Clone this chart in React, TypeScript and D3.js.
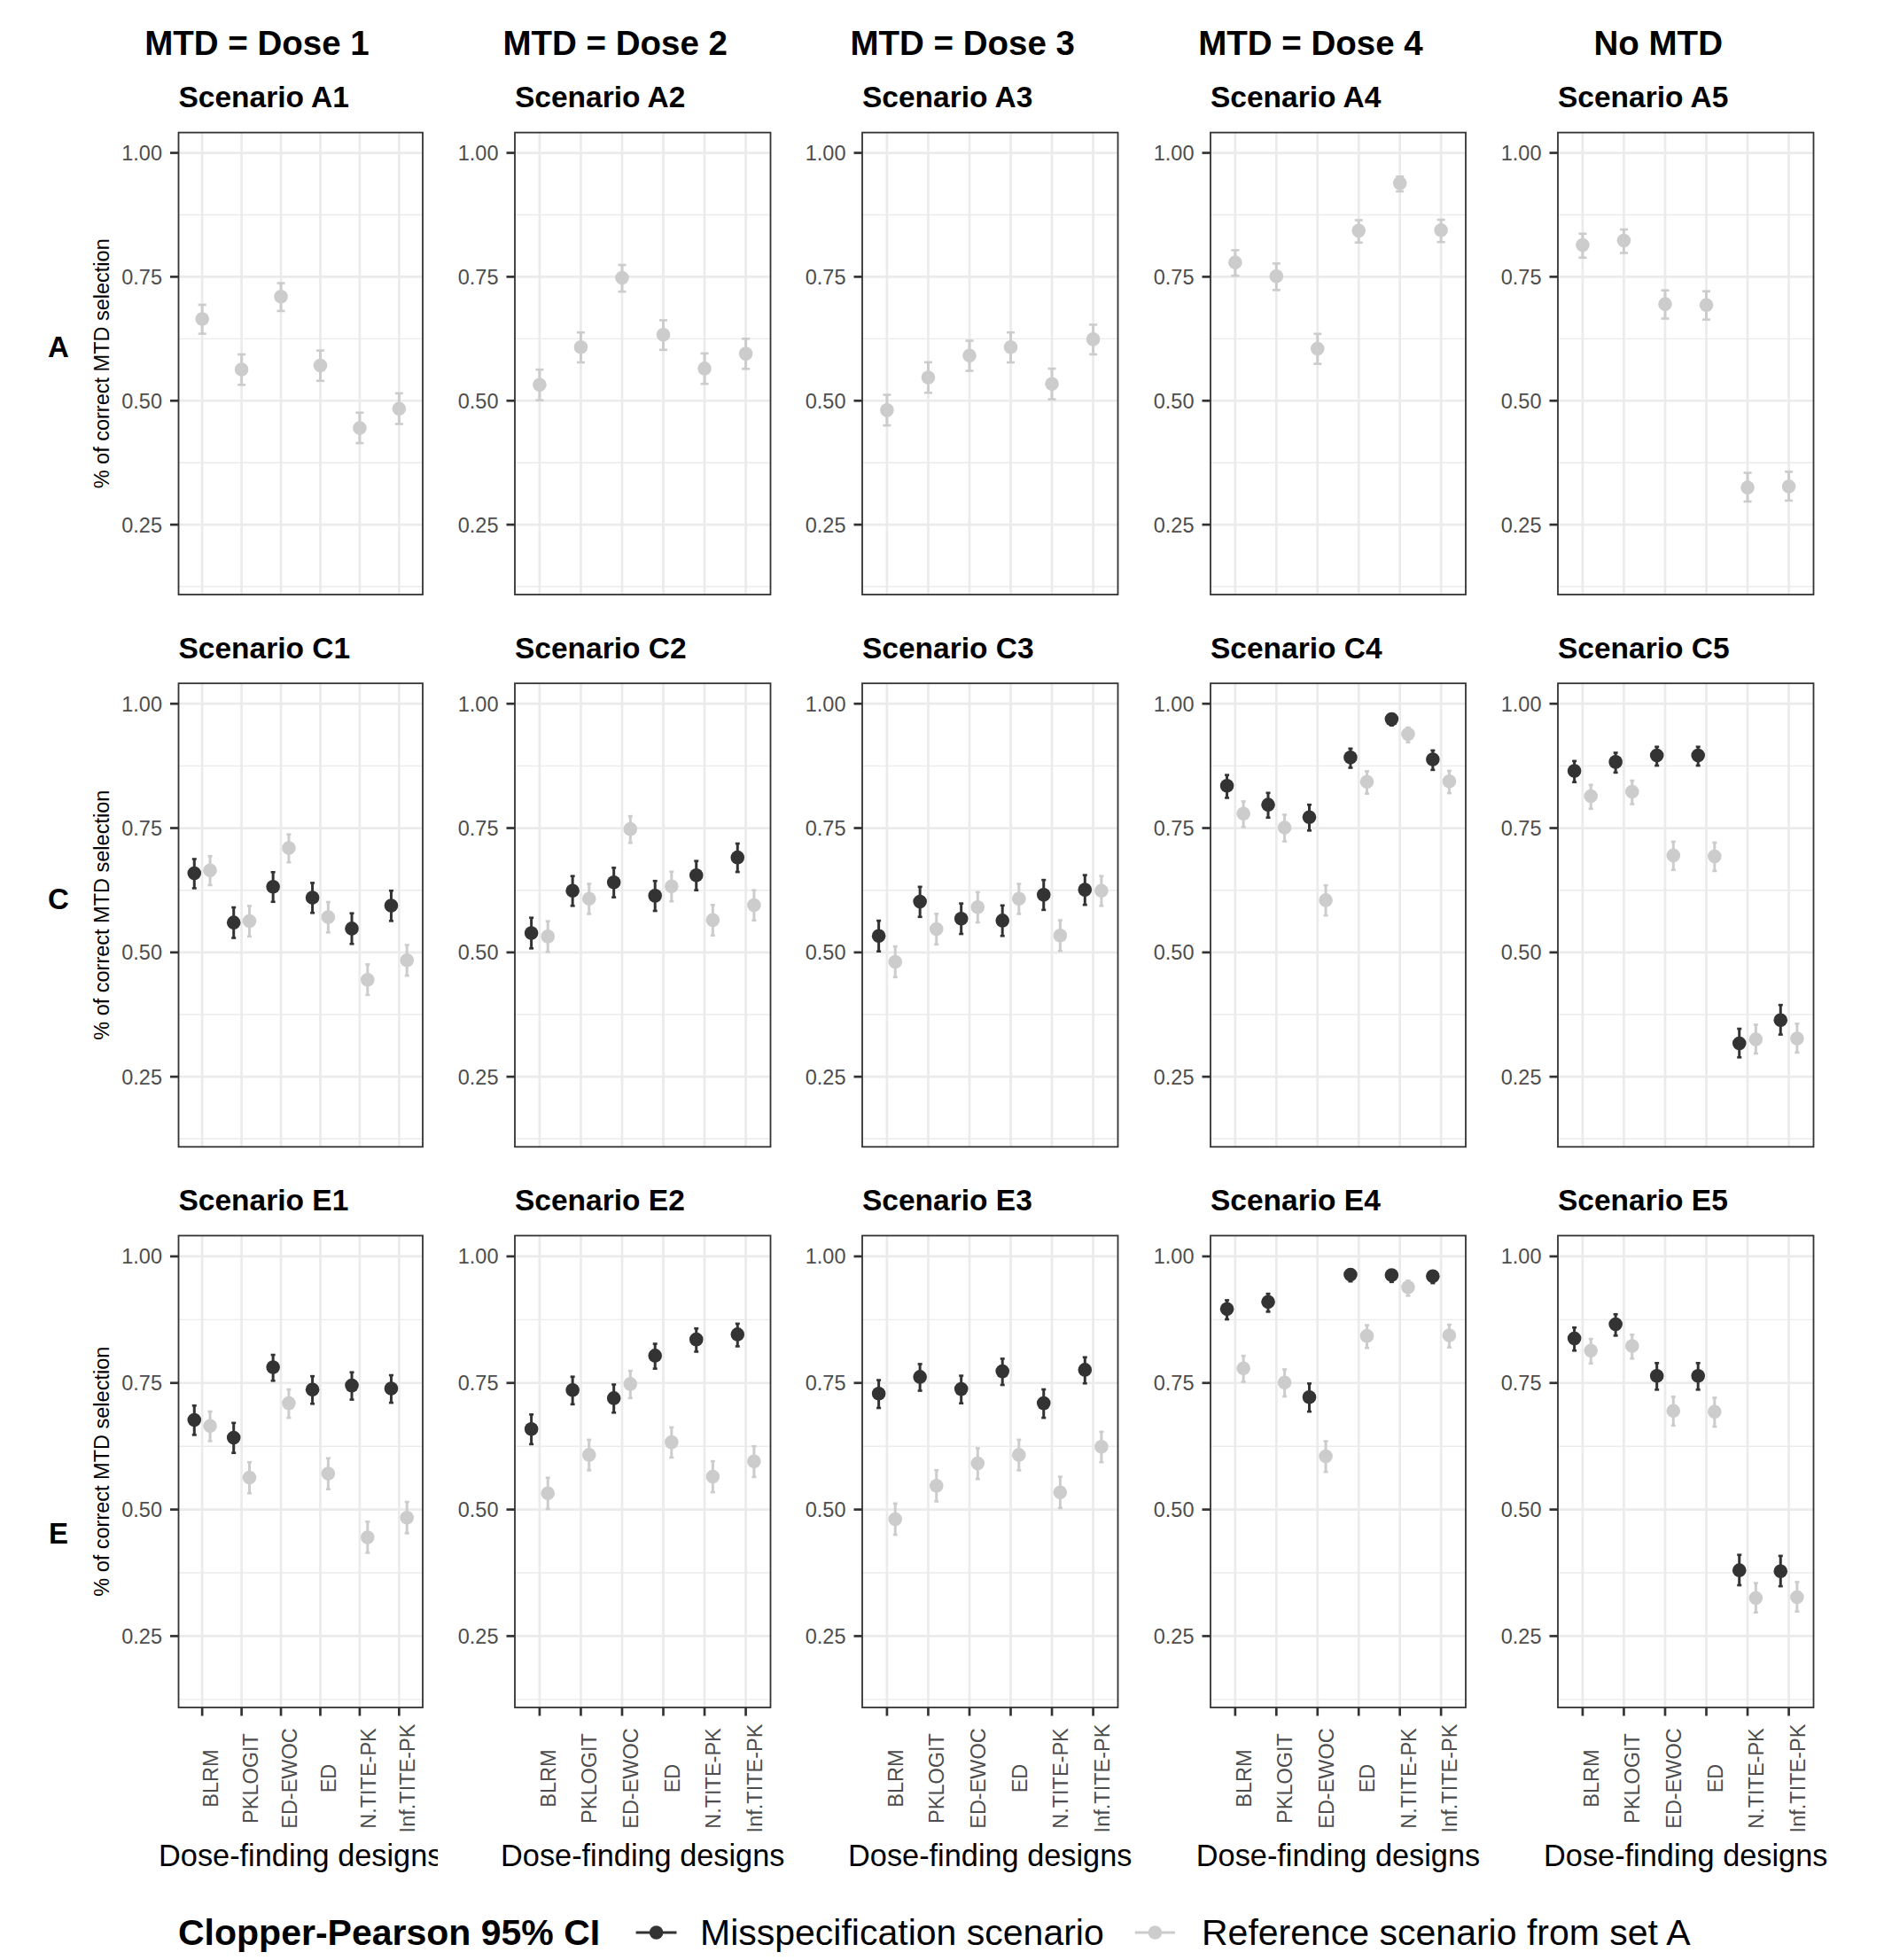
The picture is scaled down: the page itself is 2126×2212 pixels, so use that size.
import React from 'react';
import * as d3 from 'd3';

// ---- data ----
const designs = ['BLRM', 'PKLOGIT', 'ED-EWOC', 'ED', 'N.TITE-PK', 'Inf.TITE-PK'];
const columnTitles = ['MTD = Dose 1', 'MTD = Dose 2', 'MTD = Dose 3', 'MTD = Dose 4', 'No MTD'];
const rowSets = ['A', 'C', 'E'];
const yTicks = [0.25, 0.5, 0.75, 1];
const yMinorTicks = [0.125, 0.375, 0.625, 0.875];
const nSim = 1000; // simulated trials behind each proportion

// reference scenarios A1..A5 (also the grey points in rows C and E)
const setA = [
  [0.665, 0.563, 0.710, 0.571, 0.445, 0.484],
  [0.532, 0.608, 0.748, 0.633, 0.565, 0.595],
  [0.481, 0.547, 0.591, 0.608, 0.534, 0.624],
  [0.779, 0.751, 0.605, 0.843, 0.939, 0.844],
  [0.814, 0.823, 0.695, 0.693, 0.325, 0.327],
];
// misspecification scenarios C1..C5
const setC = [
  [0.659, 0.560, 0.632, 0.610, 0.548, 0.594],
  [0.539, 0.624, 0.641, 0.614, 0.655, 0.691],
  [0.533, 0.602, 0.568, 0.564, 0.616, 0.626],
  [0.835, 0.797, 0.772, 0.892, 0.969, 0.888],
  [0.865, 0.883, 0.896, 0.896, 0.317, 0.364],
];
// misspecification scenarios E1..E5
const setE = [
  [0.677, 0.642, 0.781, 0.737, 0.745, 0.739],
  [0.659, 0.736, 0.720, 0.804, 0.836, 0.846],
  [0.729, 0.762, 0.738, 0.773, 0.710, 0.776],
  [0.896, 0.910, 0.722, 0.964, 0.963, 0.961],
  [0.838, 0.866, 0.764, 0.764, 0.380, 0.378],
];
const legendLabels = ['Misspecification scenario', 'Reference scenario from set A'];

// ---- layout ----
const W = 2126;
const H = 2212;
const FONT = '"Liberation Sans", Arial, Helvetica, sans-serif';
const DARK = '#333333';
const LIGHT = '#cccccc';
const GRID = '#ebebeb';
const colX = [[201.5, 477], [581, 869.5], [973, 1261.5], [1366, 1654], [1758, 2046.5]];
const rowY = [[149.6, 671], [771.2, 1294.3], [1394.5, 1927]];
const yDomain = [0.109, 1.041];

// 95% interval for a proportion (score interval, close to Clopper-Pearson at n=1000)
function interval(p: number): [number, number] {
  const z = 1.96;
  const n = nSim;
  const d = 1 + (z * z) / n;
  const c = (p + (z * z) / (2 * n)) / d;
  const h = (z * Math.sqrt((p * (1 - p)) / n + (z * z) / (4 * n * n))) / d;
  return [c - h, c + h];
}

function Panel({ r, c }: { r: number; c: number }) {
  const [l, rt] = colX[c];
  const [t, b] = rowY[r];
  const x = d3.scalePoint<string>().domain(designs).range([l, rt]).padding(0.6);
  const y = d3.scaleLinear().domain(yDomain).range([b, t]);
  const step = x.step();

  const series =
    r === 0
      ? [{ vals: setA[c], color: LIGHT, off: 0, cap: 9 }]
      : [
          { vals: (r === 1 ? setC : setE)[c], color: DARK, off: -0.2, cap: 5 },
          { vals: setA[c], color: LIGHT, off: 0.2, cap: 5 },
        ];

  return (
    <g>
      <rect x={l} y={t} width={rt - l} height={b - t} fill="#fff" />
      {yMinorTicks.map((v) => (
        <line key={'m' + v} x1={l} x2={rt} y1={y(v)} y2={y(v)} stroke={GRID} strokeWidth={1.4} />
      ))}
      {yTicks.map((v) => (
        <line key={'g' + v} x1={l} x2={rt} y1={y(v)} y2={y(v)} stroke={GRID} strokeWidth={2.7} />
      ))}
      {designs.map((d) => (
        <line key={'v' + d} x1={x(d)} x2={x(d)} y1={t} y2={b} stroke={GRID} strokeWidth={2.7} />
      ))}
      {series.map((s, si) => (
        <g key={si}>
          {s.vals.map((v, i) => {
            const cx = (x(designs[i]) as number) + s.off * step;
            const [lo, hi] = interval(v);
            return (
              <g key={i}>
                <line x1={cx} x2={cx} y1={y(lo)} y2={y(hi)} stroke={s.color} strokeWidth={3} />
                <line x1={cx - s.cap / 2} x2={cx + s.cap / 2} y1={y(lo)} y2={y(lo)} stroke={s.color} strokeWidth={2.6} />
                <line x1={cx - s.cap / 2} x2={cx + s.cap / 2} y1={y(hi)} y2={y(hi)} stroke={s.color} strokeWidth={2.6} />
                <circle cx={cx} cy={y(v)} r={7.8} fill={s.color} />
              </g>
            );
          })}
        </g>
      ))}
      <rect x={l} y={t} width={rt - l} height={b - t} fill="none" stroke={DARK} strokeWidth={1.8} />
      {/* y axis */}
      {yTicks.map((v) => (
        <g key={'yt' + v}>
          <line x1={l - 9.5} x2={l} y1={y(v)} y2={y(v)} stroke={DARK} strokeWidth={2.7} />
          <text x={l - 18.5} y={y(v) + 8.4} textAnchor="end" fontSize={23.5} fill="#4d4d4d" fontFamily={FONT}>
            {d3.format('.2f')(v)}
          </text>
        </g>
      ))}
      {/* x axis only on the bottom row */}
      {r === 2 &&
        designs.map((d) => (
          <g key={'xt' + d}>
            <line x1={x(d)} x2={x(d)} y1={b} y2={b + 9.5} stroke={DARK} strokeWidth={2.7} />
            <text
              transform={`translate(${(x(d) as number) + 18},2007) rotate(-90)`}
              textAnchor="middle"
              fontSize={23.5}
              fill="#4d4d4d"
              fontFamily={FONT}
            >
              {d}
            </text>
          </g>
        ))}
      <text x={l} y={t - 28.3} fontSize={33.5} fontWeight="bold" fontFamily={FONT} fill="#000">
        {`Scenario ${rowSets[r]}${c + 1}`}
      </text>
    </g>
  );
}

export default function App() {
  const titleX = colX.map(([l, r], i) => (i === 0 ? 290 : (l + r) / 2 - 31));
  const rowLabelY = [403, 1025.5, 1742];

  return (
    <div style={{ position: 'absolute', left: 0, top: 0, background: '#fff' }}>
      <svg width={W} height={H} viewBox={`0 0 ${W} ${H}`} style={{ display: 'block' }}>
        <defs>
          <clipPath id="col1clip">
            <rect x={0} y={0} width={494} height={H} />
          </clipPath>
        </defs>
        <rect width={W} height={H} fill="#fff" />

        {columnTitles.map((ct, i) => (
          <text key={ct} x={titleX[i]} y={61.5} textAnchor="middle" fontSize={38.5} fontWeight="bold" fontFamily={FONT}>
            {ct}
          </text>
        ))}

        {rowSets.map((rs, r) => (
          <g key={rs}>
            <text x={66} y={rowLabelY[r]} textAnchor="middle" fontSize={33} fontWeight="bold" fontFamily={FONT}>
              {rs}
            </text>
            <text
              transform={`translate(123,${(rowY[r][0] + rowY[r][1]) / 2}) rotate(-90)`}
              textAnchor="middle"
              fontSize={23.5}
              fontFamily={FONT}
              fill="#000"
            >
              % of correct MTD selection
            </text>
            {columnTitles.map((_, c) => (
              <Panel key={c} r={r} c={c} />
            ))}
          </g>
        ))}

        {colX.map(([l, r], c) => (
          <text
            key={'xtitle' + c}
            x={(l + r) / 2}
            y={2105.5}
            textAnchor="middle"
            fontSize={34.3}
            fontFamily={FONT}
            clipPath={c === 0 ? 'url(#col1clip)' : undefined}
          >
            Dose-finding designs
          </text>
        ))}

        {/* legend */}
        <g fontFamily={FONT}>
          <text x={201} y={2195} fontSize={41} fontWeight="bold">
            Clopper-Pearson 95% CI
          </text>
          <line x1={717.6} x2={763.5} y1={2181} y2={2181} stroke={DARK} strokeWidth={3} />
          <circle cx={740.6} cy={2181} r={7.8} fill={DARK} />
          <text x={790} y={2195} fontSize={41}>
            {legendLabels[0]}
          </text>
          <line x1={1280.8} x2={1326} y1={2181} y2={2181} stroke={LIGHT} strokeWidth={3} />
          <circle cx={1303.4} cy={2181} r={7.8} fill={LIGHT} />
          <text x={1356} y={2195} fontSize={41}>
            {legendLabels[1]}
          </text>
        </g>
      </svg>
    </div>
  );
}
